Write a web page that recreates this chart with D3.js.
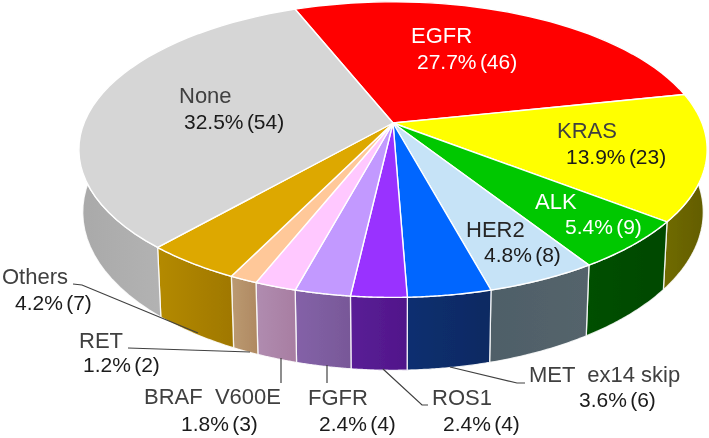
<!DOCTYPE html>
<html>
<head>
<meta charset="utf-8">
<script src="https://d3js.org/d3.v7.min.js"></script>
<style>
    html, body { margin: 0; padding: 0; background: #fff; }
    svg { display: block; }
    text { font-family: "Liberation Sans", Arial, sans-serif; }
    .name { font-size: 22px; white-space: pre; }
    .share { font-size: 21px; word-spacing: -2.5px; }
</style>
</head>
<body>
<script>
// chart data, clockwise from the EGFR slice
var categories = ['EGFR', 'KRAS', 'ALK', 'HER2', 'MET  ex14 skip', 'ROS1', 'FGFR', 'BRAF  V600E', 'RET', 'Others', 'None'];
var counts = [46, 23, 9, 8, 6, 4, 4, 3, 2, 7, 54];
var topColors = ['#ff0000', '#ffff00', '#00c800', '#c6e3f7', '#0066ff', '#9933ff', '#c299ff', '#ffc8ff', '#ffc899', '#dda800', '#d6d6d6'];
var sideLeft = ['#800000', '#6f6a00', '#004f00', '#4f5f68', '#0f2f70', '#5a1e96', '#8462a8', '#b08cb0', '#bb9a72', '#b48a00', '#a9a9a9'];
var sideRight = ['#800000', '#625c00', '#004800', '#54646c', '#0c2a62', '#50168a', '#785898', '#a87ea2', '#b08a62', '#a07800', '#c2c2c2'];

window.onload = function () {
    var w = 709,
        h = 438;

    var svg = d3.select('body')
        .append('svg')
        .attr('width', w)
        .attr('height', h);

    var defs = svg.append('defs');

    defs.append('filter')
        .attr('id', 'soft')
        .attr('filterUnits', 'userSpaceOnUse')
        .attr('x', 0).attr('y', 0).attr('width', w).attr('height', h)
        .append('feGaussianBlur')
        .attr('stdDeviation', 0.45);

    var total = d3.sum(counts);
    var pct = d3.format('.1%');

    var slices = d3.pie()
        .sort(null)
        .startAngle(-21.7 * Math.PI / 180)
        .endAngle((360 - 21.7) * Math.PI / 180)(counts);

    // perspective view of the disc: near edge bigger than far edge
    var cx = 393, tilt = 0.18, depthTilt = 0.012;
    var sx = d3.scaleLinear().domain([-1, 1]).range([cx - 309, cx + 309]);
    var syTop = d3.scaleLinear().domain([-1, 1]).range([123 - 143, 123 + 143]);
    var syBottom = d3.scaleLinear().domain([-1, 1]).range([184 - 155, 184 + 155]);

    function topPoint(a, r) {
        var X = r * Math.sin(a), Y = -r * Math.cos(a), s = 1 - tilt * Y;
        return [sx(X / s), syTop(Y / s)];
    }
    function bottomPoint(a) {
        var X = Math.sin(a), Y = -Math.cos(a), s = 1 - tilt * Y + depthTilt;
        return [sx(X / s), syBottom(Y / s)];
    }
    function arcAngles(d) {
        return d3.range(0, 1.0001, 1 / 40).map(function (t) {
            return d.startAngle + t * (d.endAngle - d.startAngle);
        });
    }

    var line = d3.line();
    var pie3d = svg.append('g').attr('class', 'pie').attr('filter', 'url(#soft)');

    // side walls first so the top face covers the hidden ones
    slices.forEach(function (d, i) {
        var id = 'side' + i;
        var xs = arcAngles(d).map(function (a) { return topPoint(a, 1)[0]; });
        var grad = defs.append('linearGradient')
            .attr('id', id)
            .attr('gradientUnits', 'userSpaceOnUse')
            .attr('x1', d3.min(xs)).attr('x2', d3.max(xs))
            .attr('y1', 0).attr('y2', 0);
        grad.append('stop').attr('offset', 0).attr('stop-color', sideLeft[i]);
        grad.append('stop').attr('offset', 1).attr('stop-color', sideRight[i]);

        var upper = arcAngles(d).map(function (a) { return topPoint(a, 1); });
        var lower = arcAngles(d).reverse().map(bottomPoint);
        pie3d.append('path')
            .attr('class', 'side')
            .attr('d', line(upper.concat(lower)) + 'Z')
            .attr('fill', 'url(#' + id + ')')
            .attr('stroke', '#fff')
            .attr('stroke-opacity', 0.85)
            .attr('stroke-width', 1.3)
            .attr('stroke-linejoin', 'round');
    });

    // top face
    slices.forEach(function (d, i) {
        var pts = [topPoint(0, 0)].concat(arcAngles(d).map(function (a) { return topPoint(a, 1); }));
        pie3d.append('path')
            .attr('class', 'slice')
            .attr('d', line(pts) + 'Z')
            .attr('fill', topColors[i])
            .attr('stroke', '#fff')
            .attr('stroke-width', 1.4)
            .attr('stroke-linejoin', 'round');
    });

    // leader lines for the small slices
    var leaders = [
        [[73, 284], [82, 285], [198, 333]],
        [[128, 348], [250, 352]],
        [[281, 358], [281, 383]],
        [[327, 365], [327, 383]],
        [[383, 369], [422, 405], [428, 405]],
        [[450, 367], [517, 383], [525, 383]]
    ];
    pie3d.selectAll('.leader')
        .data(leaders)
        .enter()
        .append('path')
        .attr('class', 'leader')
        .attr('d', function (d) { return line(d); })
        .attr('fill', 'none')
        .attr('stroke', '#404040')
        .attr('stroke-width', 1.2);

    // left edge and baseline of both text lines, in slice order
    var labelPos = [
        { x1: 411, y1: 43, x2: 417, y2: 69, color: '#fff', color2: '#fff' },
        { x1: 557, y1: 138, x2: 566, y2: 164 },
        { x1: 535, y1: 209, x2: 565, y2: 234, color: '#fff', color2: '#fff' },
        { x1: 466, y1: 237, x2: 484, y2: 262, color: '#262626' },
        { x1: 529, y1: 382, x2: 579, y2: 407 },
        { x1: 432, y1: 405, x2: 443, y2: 431 },
        { x1: 308, y1: 405, x2: 319, y2: 431 },
        { x1: 144, y1: 404, x2: 181, y2: 431 },
        { x1: 79, y1: 348, x2: 83, y2: 372 },
        { x1: 2, y1: 284, x2: 15, y2: 310 },
        { x1: 179, y1: 103, x2: 184, y2: 129 }
    ];

    var labels = svg.append('g').attr('class', 'labels').attr('filter', 'url(#soft)');

    labels.selectAll('.name')
        .data(categories)
        .enter()
        .append('text')
        .attr('class', 'name')
        .attr('x', function (d, i) { return labelPos[i].x1; })
        .attr('y', function (d, i) { return labelPos[i].y1; })
        .attr('fill', function (d, i) { return labelPos[i].color || '#404040'; })
        .text(function (d) { return d; });

    labels.selectAll('.share')
        .data(counts)
        .enter()
        .append('text')
        .attr('class', 'share')
        .attr('x', function (d, i) { return labelPos[i].x2; })
        .attr('y', function (d, i) { return labelPos[i].y2; })
        .attr('fill', function (d, i) { return labelPos[i].color2 || '#1a1a1a'; })
        .text(function (d) { return pct(d / total) + ' (' + d + ')'; });
};
</script>
</body>
</html>
